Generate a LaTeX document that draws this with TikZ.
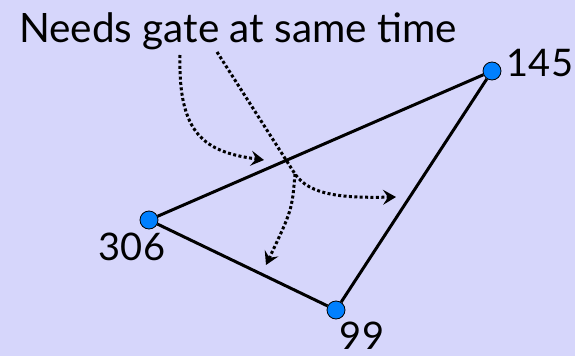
\documentclass[tikz,border=0pt]{standalone}
\usepackage{fontspec}
\setmainfont{Lato}
\usetikzlibrary{arrows.meta}
\definecolor{lavender}{RGB}{214,214,251}
\definecolor{dotblue}{RGB}{0,128,255}

\begin{document}
\begin{tikzpicture}[x=1pt,y=-1pt,
  vertex/.style={circle,draw=black,line width=0.8pt,fill=dotblue,minimum size=18pt,inner sep=0pt},
  edge/.style={line width=3pt},
  hint/.style={line width=3pt,dash pattern=on 3pt off 2.4pt,-{Stealth[length=13pt,width=15pt,inset=5pt]}},
  num/.style={font=\fontsize{38}{38}\selectfont,inner sep=0pt}]
  \fill[lavender] (0,0) rectangle (575,356);
  \useasboundingbox (0,0) rectangle (575,356);
  \node[anchor=base west,inner sep=0pt,font=\fontsize{40.5}{40}\selectfont] (title) at (19,42) {Needs gate at same time};
  \node[vertex] (n306) at (149,220) {};
  \node[vertex] (n145) at (492,71) {};
  \node[vertex] (n99) at (336,310) {};
  \draw[edge] (n306)--(n145)--(n99)--(n306);
  \foreach \p/\t/\dx/\dy in {n145/145/48/-8,n306/306/-17/27,n99/99/26/26}
    \node[num] (l\p) at ([shift={(\dx,\dy)}]\p) {\t};
  % arrows from the title
  \coordinate (s1) at (180,55); \coordinate (s2) at (217,52); \coordinate (x) at (295,174);
  \coordinate (e1) at (264,160); \coordinate (e2) at (396,197); \coordinate (e3) at (266,265);
  \draw[hint] (s1) .. controls (178,135) and (205,152) .. (e1);
  \draw[hint] (s2) -- (x) .. controls (310,196) and (345,198) .. (e2);
  \draw[hint] (x) .. controls (292,210) .. (e3);
\end{tikzpicture}
\end{document}
